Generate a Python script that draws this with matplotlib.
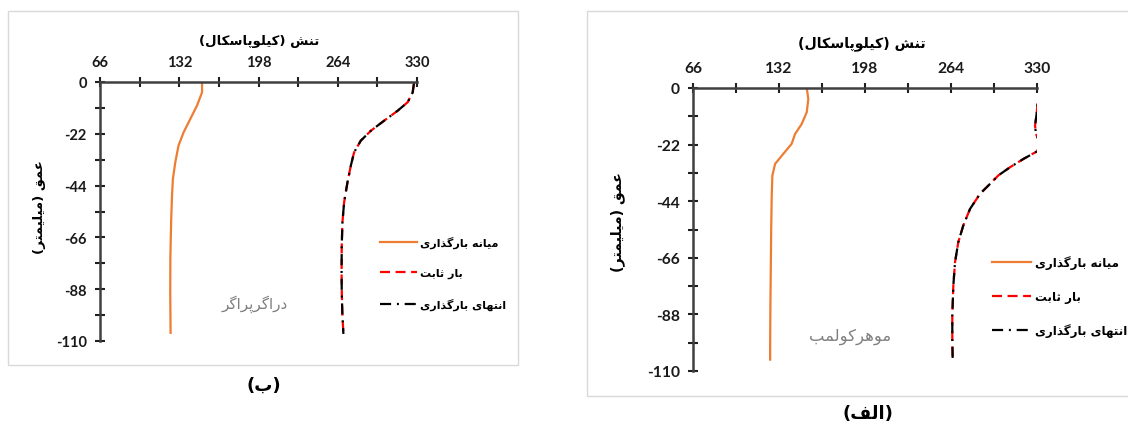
import matplotlib
matplotlib.use("Agg")
import matplotlib.pyplot as plt
from matplotlib.patches import Rectangle
from matplotlib.lines import Line2D

# ---------------- data ----------------
x_ticks = [66, 132, 198, 264, 330]
x_minor = [99, 165, 231, 297]
y_ticks = [0, -22, -44, -66, -88, -110]
y_minor = [-11, -33, -55, -77, -99]

# panel (b) : Drucker-Prager
depth_b_mid = [0, -4.4, -10, -15.7, -21.4, -27, -34.1, -41.2, -49, -60, -75, -90, -107]
stress_b_mid = [151, 151, 146.8, 141.2, 135.6, 131.4, 128.7, 126.7, 125.9, 125.2, 124.6, 124.5, 124.8]
depth_b_fixed = [-0.5, -4.4, -8.6, -12.2, -16.4, -20.7, -24.9, -29.9, -35.5, -42.6, -51.1,
                 -59.6, -70, -80, -88, -98, -107]
stress_b_fixed = [327.5, 326.4, 322.2, 313.9, 302.7, 291.6, 283.2, 277.6, 274.9, 272.1, 269.3,
                  267.9, 267.3, 267.2, 267.3, 267.8, 268.7]
depth_b_end = [-0.5, -4.4, -8.6, -12.2, -16.4, -20.7, -24.9, -29.9, -35.5, -42.6, -51.1,
               -59.6, -70, -80, -88, -98, -107]
stress_b_end = [327.5, 326.4, 322.2, 313.9, 302.7, 291.6, 283.2, 277.6, 274.9, 272.1, 269.3,
                267.9, 267.3, 267.2, 267.3, 267.8, 268.7]

# panel (a) : Mohr-Coulomb
depth_a_mid = [0, -4.3, -9.4, -14, -17.9, -21.7, -25.6, -29.5, -34, -42.4, -55, -70, -85, -100, -106]
stress_a_mid = [153.3, 154.5, 153.3, 149.4, 144.3, 141.7, 135.3, 129, 126.9, 126.4, 126.0, 125.7,
                125.4, 125.2, 125.2]
depth_a_fixed = [0, -5.6, -10.1, -14.6, -17.9, -19.8, -22, -24.7, -27.6, -30.8, -34, -37.3, -41.1,
                 -43.1, -47, -53.5, -59.9, -67.7, -76.7, -88.4, -97.4, -106]
stress_a_fixed = [333, 330.5, 329.7, 328.5, 329.2, 331, 333, 329.8, 319.5, 309.3, 300.3, 293.9,
                  286.3, 283.7, 278.6, 273.4, 269.6, 267.1, 265.8, 265, 265, 265.3]
depth_a_end = [0, -5.6, -10.1, -14.6, -17.9, -19.8, -22, -24.7, -27.6, -30.8, -34, -37.3, -41.1,
               -43.1, -47, -53.5, -59.9, -67.7, -76.7, -88.4, -97.4, -106]
stress_a_end = [333, 330.5, 329.7, 328.5, 329.2, 331, 333, 329.8, 319.5, 309.3, 300.3, 293.9,
                286.3, 283.7, 278.6, 273.4, 269.6, 267.1, 265.8, 265, 265, 265.3]

x_title = "تنش (کیلوپاسکال)"
y_title = "عمق (میلیمتر)"
legend_labels = ["میانه بارگذاری", "بار ثابت", "انتهای بارگذاری"]
model_b = "دراگرپراگر"
model_a = "موهرکولمب"
caption_b = "(ب)"
caption_a = "(الف)"

# ---------------- minimal Persian shaping (visual order) ----------------
FORMS = {
    'ا': ('\uFE8D', '\uFE8E', None, None),
    'ب': ('\uFE8F', '\uFE90', '\uFE91', '\uFE92'),
    'ت': ('\uFE95', '\uFE96', '\uFE97', '\uFE98'),
    'ث': ('\uFE99', '\uFE9A', '\uFE9B', '\uFE9C'),
    'د': ('\uFEA9', '\uFEAA', None, None),
    'ذ': ('\uFEAB', '\uFEAC', None, None),
    'ر': ('\uFEAD', '\uFEAE', None, None),
    'س': ('\uFEB1', '\uFEB2', '\uFEB3', '\uFEB4'),
    'ش': ('\uFEB5', '\uFEB6', '\uFEB7', '\uFEB8'),
    'ع': ('\uFEC9', '\uFECA', '\uFECB', '\uFECC'),
    'ف': ('\uFED1', '\uFED2', '\uFED3', '\uFED4'),
    'ق': ('\uFED5', '\uFED6', '\uFED7', '\uFED8'),
    'ل': ('\uFEDD', '\uFEDE', '\uFEDF', '\uFEE0'),
    'م': ('\uFEE1', '\uFEE2', '\uFEE3', '\uFEE4'),
    'ن': ('\uFEE5', '\uFEE6', '\uFEE7', '\uFEE8'),
    'ه': ('\uFEE9', '\uFEEA', '\uFEEB', '\uFEEC'),
    'و': ('\uFEED', '\uFEEE', None, None),
    'پ': ('\uFB56', '\uFB57', '\uFB58', '\uFB59'),
    'ک': ('\uFB8E', '\uFB8F', '\uFB90', '\uFB91'),
    'گ': ('\uFB92', '\uFB93', '\uFB94', '\uFB95'),
    'ی': ('\uFBFC', '\uFBFD', '\uFBFE', '\uFBFF'),
}
MIRROR = {'(': ')', ')': '('}


def fa(s):
    chars = list(s)
    out = []
    for i, c in enumerate(chars):
        if c not in FORMS:
            out.append(c)
            continue
        prev = chars[i - 1] if i > 0 else None
        nxt = chars[i + 1] if i + 1 < len(chars) else None
        jp = prev in FORMS and FORMS[prev][2] is not None
        jn = FORMS[c][2] is not None and nxt in FORMS
        iso, fin, ini, med = FORMS[c]
        if jp and jn:
            out.append(med)
        elif jp:
            out.append(fin)
        elif jn:
            out.append(ini)
        else:
            out.append(iso)
    return ''.join(MIRROR.get(c, c) for c in reversed(out))


# ---------------- figure ----------------
W, H = 1128, 427
fig = plt.figure(figsize=(W / 100, H / 100), dpi=100)
fig.patch.set_facecolor('white')

FA_FONT = ['DejaVu Sans']
NUM_FONT = ['Lato', 'DejaVu Sans']
ORANGE = '#ED7D31'
SPINE = '#404040'
RED_DASH = (4.5, 2.5)
BLACK_DASH = (5.0, 2.6, 0.9, 2.6)


def fx(x):
    return x / W


def fy(y):
    return 1 - y / H


def add_frame(x0, y0, x1, y1):
    fig.add_artist(Rectangle((fx(x0), fy(y1)), fx(x1) - fx(x0), fy(y0) - fy(y1),
                             transform=fig.transFigure, fill=False,
                             edgecolor='#D9D9D9', lw=1.0))


def make_panel(box, d_mid, s_mid, d_fix, s_fix, d_end, s_end, sc,
               title_xy, ylab_xy, leg_xy, model_txt, model_xy, cap_txt, cap_xy):
    x0, y0, x1, y1 = box
    ax = fig.add_axes([fx(x0), fy(y1), fx(x1) - fx(x0), fy(y0) - fy(y1)])
    ax.set_xlim(66, 330)
    ax.set_ylim(-110, 0)
    ax.plot(s_mid, d_mid, color=ORANGE, lw=1.6, solid_capstyle='butt')
    ax.plot(s_fix, d_fix, color='#FF0000', lw=1.6, dashes=RED_DASH)
    ax.plot(s_end, d_end, color='black', lw=1.6, dashes=BLACK_DASH)

    for side in ['bottom', 'right']:
        ax.spines[side].set_visible(False)
    for side in ['left', 'top']:
        ax.spines[side].set_color(SPINE)
        ax.spines[side].set_linewidth(1.8)
    ax.xaxis.tick_top()
    ax.set_xticks(x_ticks)
    ax.set_xticks(x_minor, minor=True)
    ax.set_yticks(y_ticks)
    ax.set_yticks(y_minor, minor=True)
    ax.set_xticklabels([str(v) for v in x_ticks])
    ax.set_yticklabels([str(v) for v in y_ticks])
    ax.tick_params(which='both', direction='inout', length=7, width=1.5, color='#202020')
    ax.tick_params(axis='x', which='major', pad=6)
    ax.tick_params(axis='y', which='major', pad=6)
    for lab in ax.get_xticklabels() + ax.get_yticklabels():
        lab.set_fontfamily(NUM_FONT)
        lab.set_fontweight('bold')
        lab.set_fontsize(10.5 * sc)
        lab.set_color('#1a1a1a')
    ax.patch.set_alpha(0)

    fig.text(fx(title_xy[0]), fy(title_xy[1]), fa(x_title), family=FA_FONT, weight='bold',
             fontsize=9.5 * sc, ha='center', va='center')
    fig.text(fx(ylab_xy[0]), fy(ylab_xy[1]), fa(y_title), family=FA_FONT, weight='bold',
             fontsize=9.5 * sc, ha='center', va='center', rotation=90)
    fig.text(fx(model_xy[0]), fy(model_xy[1]), fa(model_txt), family=FA_FONT,
             fontsize=11 * sc, color='#7F7F7F', ha='center', va='center')
    fig.text(fx(cap_xy[0]), fy(cap_xy[1]), fa(cap_txt), family=FA_FONT, weight='bold',
             fontsize=13, ha='center', va='center')

    handles = [
        Line2D([], [], color=ORANGE, lw=1.6),
        Line2D([], [], color='#FF0000', lw=1.6, dashes=RED_DASH),
        Line2D([], [], color='black', lw=1.6, dashes=BLACK_DASH),
    ]
    ax.legend(handles, [fa(t) for t in legend_labels], loc='upper left',
              bbox_to_anchor=(fx(leg_xy[0]), fy(leg_xy[1])),
              bbox_transform=fig.transFigure, frameon=False,
              handlelength=3.3, handletextpad=0.3, labelspacing=1.75,
              borderpad=0, borderaxespad=0,
              prop={'family': FA_FONT, 'weight': 'bold', 'size': 8 * sc})
    return ax


add_frame(8, 12, 518, 366)
add_frame(587, 12, 1140, 397)

make_panel((100, 83, 417, 342), depth_b_mid, stress_b_mid, depth_b_fixed, stress_b_fixed,
           depth_b_end, stress_b_end, 1.0,
           title_xy=(259, 41), ylab_xy=(40, 207), leg_xy=(380, 237),
           model_txt=model_b, model_xy=(255, 304), cap_txt=caption_b, cap_xy=(264, 386))

make_panel((693, 89, 1037, 372), depth_a_mid, stress_a_mid, depth_a_fixed, stress_a_fixed,
           depth_a_end, stress_a_end, 1.07,
           title_xy=(862, 44), ylab_xy=(618, 222), leg_xy=(992, 256),
           model_txt=model_a, model_xy=(850, 337), cap_txt=caption_a, cap_xy=(868, 414))

fig.savefig('out.png', dpi=100, facecolor='white')
